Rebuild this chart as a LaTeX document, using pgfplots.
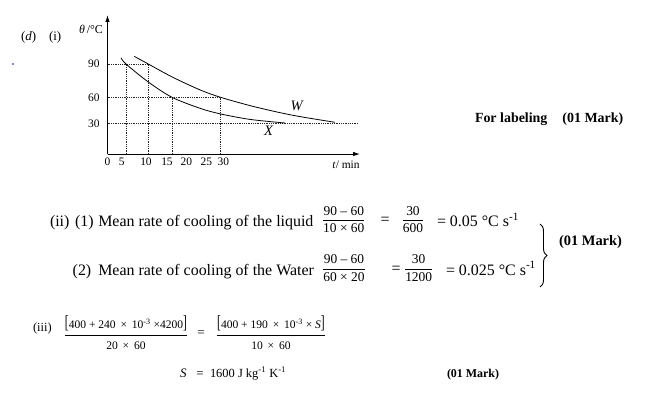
\documentclass[border=0pt]{standalone}
\usepackage{pgfplots}
\pgfplotsset{compat=1.18}
\usepackage{fontspec}
\setmainfont{Liberation Serif}
\usepackage{graphicx}
\usetikzlibrary{arrows.meta,decorations.pathreplacing}
\newcommand\fs[1]{\fontsize{#1}{#1}\selectfont}
\setlength{\arrayrulewidth}{0.6pt}
\newcommand\fr[3][1.25]{{\renewcommand\arraystretch{#1}\begin{tabular}{@{}c@{}}#2\\\hline #3\end{tabular}}}
\newcommand\lb{\scalebox{1}[1.6]{[}}
\newcommand\rb{\scalebox{1}[1.6]{]}}
\begin{document}
\begin{tikzpicture}
\path[use as bounding box] (0,0) rectangle (661bp,-414bp);
\begin{axis}[
  at={(107.5bp,-154bp)}, anchor=south west,
  scale only axis, width=252.5bp, height=139bp,
  xmin=0, xmax=66.85, ymin=0, ymax=139,
  axis lines*=left,
  axis line style={line width=0.9bp, black, -{Latex[length=7bp,width=4.5bp]}},
  xtick={0,3.76,10.19,15.75,20.9,26.2,30.7},
  xticklabels={0,5,10,15,\raisebox{2bp}{20},25,30},
  ytick={30.7,56.7,90}, yticklabels={30,60,90},
  major tick length=0pt,
  tick label style={font=\fs{11.5}},
  yticklabel style={xshift=-4.5bp},
  /pgf/number format/assume math mode=true,
  clip=false,
]
% dotted guide lines
\addplot[densely dotted, line width=0.8bp, black!85] coordinates {(0,90) (10.8,90)};
\addplot[densely dotted, line width=0.8bp, black!85] coordinates {(0,56.7) (29.92,56.7)};
\addplot[densely dotted, line width=0.8bp, black!85] coordinates {(0,30.7) (66.3,30.7)};
\addplot[densely dotted, line width=0.8bp, black!85] coordinates {(4.9,0) (4.9,90)};
\addplot[densely dotted, line width=0.8bp, black!85] coordinates {(10.8,0) (10.8,90)};
\addplot[densely dotted, line width=0.8bp, black!85] coordinates {(17.08,0) (17.08,56.7)};
\addplot[densely dotted, line width=0.8bp, black!85] coordinates {(29.92,0) (29.92,56.7)};
% curve X (liquid)
\addplot[smooth, line width=0.8bp, black] coordinates {
  (3.57,96.3) (4.9,90) (10.8,72) (17.08,56.7) (24.49,45.7) (29.78,40.2) (37.73,34.6) (47.0,31)};
% curve W (water)
\addplot[smooth, line width=0.8bp, black] coordinates {
  (7.10,97.6) (10.8,90) (17.08,77.1) (24.49,64.1) (29.92,56.7) (37.73,48.4) (45,41.9) (50.97,37.4) (60.23,31.7)};
\end{axis}
\begin{scope}[x=1bp,y=-1bp,every node/.style={inner sep=0pt,outer sep=0pt}]
\node[anchor=base west,font=\fs{13}] at (21,40) {(\textit{d})};
\node[anchor=base west,font=\fs{13}] at (49,40) {(i)};
\fill[blue] (13,64) circle (0.8);
\node[font=\fs{12}] at (91,29) {\textit{θ}\,/°C};
\node[font=\fs{14.5}\itshape] at (296.7,106) {W};
\node[font=\fs{14.5}\itshape] at (268.5,131) {X};
\node[font=\fs{11.5}] at (346,165) {\textit{t}/ min};
\node[anchor=base west,font=\fs{14}\bfseries] at (475,122) {For labeling\hspace{15bp}(01 Mark)};
% (ii)(1)
\node[anchor=base west,font=\fs{16}] at (50,226.7) {(ii)};
\node[anchor=base west,font=\fs{16}] at (75,226.7) {(1)};
\node[anchor=base west,font=\fs{16}] at (98.3,226.7) {Mean rate of cooling of the liquid};
\node[font=\fs{13.5}] at (343.8,220.5) {\fr{90 – 60}{10 × 60}};
\node[anchor=base,font=\fs{16}] at (385,224.8) {=};
\node[font=\fs{13.5}] at (413,220.5) {\fr{30}{600}};
\node[anchor=base west,font=\fs{16}] at (437,226.7) {= 0.05 °C s\textsuperscript{-1}};
% (2)
\node[anchor=base west,font=\fs{16}] at (72.7,275) {(2)};
\node[anchor=base west,font=\fs{16}] at (98.3,275) {Mean rate of cooling of the Water};
\node[font=\fs{13.5}] at (344,269) {\fr{90 – 60}{60 × 20}};
\node[anchor=base,font=\fs{16}] at (396,273.3) {=};
\node[font=\fs{13.5}] at (418.7,269) {\fr{30}{1200}};
\node[anchor=base west,font=\fs{16}] at (446,275) {= 0.025 °C s\textsuperscript{-1}};
\draw[decorate,decoration={brace,amplitude=7bp},line width=0.9bp] (540,224) -- (540,287);
\node[anchor=west,font=\fs{14.5}\bfseries] at (559,241.7) {(01 Mark)};
% (iii)
\node[anchor=base west,font=\fs{12.5}] at (33,331) {(iii)};
\node[font=\fs{11.6}] at (126,335) {\fr[1.7]{\lb400 + 240 \,×\, 10\textsuperscript{-3} ×4200\rb}{20 \,×\, 60}};
\node[anchor=base,font=\fs{13}] at (201,336.5) {=};
\node[font=\fs{11.6}] at (271,335) {\fr[1.7]{\lb400 + 190 \,×\, 10\textsuperscript{-3} × \textit{S}\rb}{10 \,×\, 60}};
% S line
\node[anchor=base west,font=\fs{13}\itshape] at (180,377) {S};
\node[anchor=base,font=\fs{13}] at (200,377) {=};
\node[anchor=base west,font=\fs{12.5}] at (210,377) {1600 J kg\textsuperscript{-1} K\textsuperscript{-1}};
\node[anchor=base west,font=\fs{12}\bfseries] at (447,377) {(01 Mark)};
\end{scope}
\end{tikzpicture}
\end{document}
